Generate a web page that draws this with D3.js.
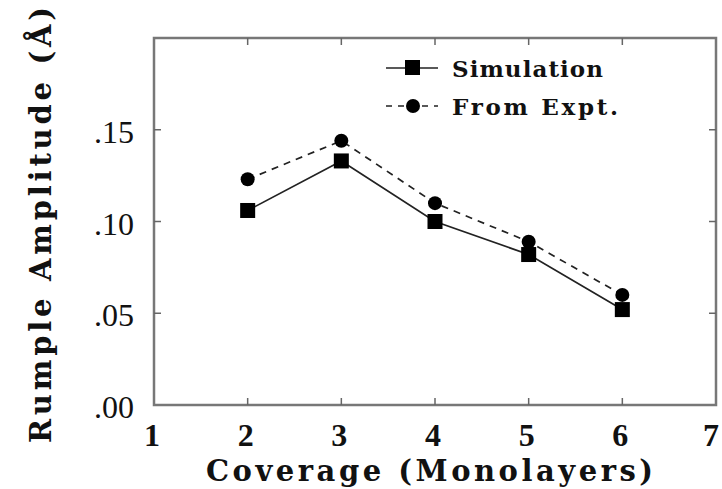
<!DOCTYPE html>
<html>
<head>
<meta charset="utf-8">
<script src="https://cdn.jsdelivr.net/npm/d3@7"></script>
<style>
  body { margin: 0; background: #fff; }
  svg { display: block; }
  .ytick-label { font-family: "Liberation Serif", serif; font-size: 32px; fill: #111; }
  .xtick-label { font-family: "Liberation Serif", serif; font-size: 32px; font-weight: bold; fill: #111; }
  .axis-title { font-family: "DejaVu Serif", serif; font-size: 29px; font-weight: bold; fill: #111; }
  .legend-text { font-family: "DejaVu Serif", serif; font-size: 23px; font-weight: bold; fill: #111; }
</style>
</head>
<body>
<div id="chart"></div>
<script>
// data
const coverage = [2, 3, 4, 5, 6];
const simulation = [0.106, 0.133, 0.100, 0.082, 0.052];
const fromExpt = [0.123, 0.144, 0.110, 0.089, 0.060];
const xTicks = [1, 2, 3, 4, 5, 6, 7];
const yTicks = [0, 0.05, 0.10, 0.15];
const yTickLabels = ['.00', '.05', '.10', '.15'];

const width = 722, height = 489;
const plotL = 154, plotR = 716, plotT = 38, plotB = 405;

const svg = d3.select('#chart').append('svg')
  .attr('width', width).attr('height', height);

const x = d3.scaleLinear().domain([1, 7]).range([plotL, plotR]);
const y = d3.scaleLinear().domain([0, 0.2]).range([plotB, plotT]);

// frame
svg.append('rect')
  .attr('x', plotL).attr('y', plotT)
  .attr('width', plotR - plotL).attr('height', plotB - plotT)
  .attr('fill', 'none').attr('stroke', '#777').attr('stroke-width', 2.5);

// inward ticks on all four sides
const tk = 7;
const innerX = xTicks.filter(d => d > 1 && d < 7);
const innerY = yTicks.filter(d => d > 0);
const ticks = svg.append('g').attr('stroke', '#666').attr('stroke-width', 1.5);
innerX.forEach(d => {
  ticks.append('line').attr('x1', x(d)).attr('x2', x(d)).attr('y1', plotB).attr('y2', plotB - tk);
  ticks.append('line').attr('x1', x(d)).attr('x2', x(d)).attr('y1', plotT).attr('y2', plotT + tk);
});
innerY.forEach(d => {
  ticks.append('line').attr('x1', plotL).attr('x2', plotL + tk).attr('y1', y(d)).attr('y2', y(d));
  ticks.append('line').attr('x1', plotR).attr('x2', plotR - tk).attr('y1', y(d)).attr('y2', y(d));
});

// tick labels (last one pulled in a little so it stays on the page)
svg.selectAll('.xl').data(xTicks).enter().append('text')
  .attr('class', 'xtick-label')
  .attr('x', d => Math.min(x(d) - 2, width - 11)).attr('y', 446)
  .attr('text-anchor', 'middle')
  .text(d => d);
svg.selectAll('.yl').data(yTicks).enter().append('text')
  .attr('class', 'ytick-label')
  .attr('x', 134).attr('y', d => y(d) + 13)
  .attr('text-anchor', 'end')
  .text((d, i) => yTickLabels[i]);

// axis titles (spread out like the original)
svg.append('text').attr('class', 'axis-title')
  .attr('x', 206).attr('y', 481)
  .attr('textLength', 447).attr('lengthAdjust', 'spacing')
  .text('Coverage (Monolayers)');
svg.append('text').attr('class', 'axis-title')
  .attr('transform', 'rotate(-90)')
  .attr('x', -443).attr('y', 51)
  .attr('textLength', 436).attr('lengthAdjust', 'spacing')
  .text('Rumple Amplitude (Å)');

// series lines
const simPts = coverage.map((c, i) => [c, simulation[i]]);
const expPts = coverage.map((c, i) => [c, fromExpt[i]]);
const line = d3.line().x(d => x(d[0])).y(d => y(d[1]));

svg.append('path').attr('d', line(expPts))
  .attr('fill', 'none').attr('stroke', '#222').attr('stroke-width', 1.7)
  .attr('stroke-dasharray', '7,6');
svg.append('path').attr('d', line(simPts))
  .attr('fill', 'none').attr('stroke', '#222').attr('stroke-width', 1.7);

// markers
const sq = 15;
svg.selectAll('.sq').data(simPts).enter().append('rect')
  .attr('x', d => x(d[0]) - sq / 2).attr('y', d => y(d[1]) - sq / 2)
  .attr('width', sq).attr('height', sq).attr('fill', '#000');
svg.selectAll('.ci').data(expPts).enter().append('circle')
  .attr('cx', d => x(d[0])).attr('cy', d => y(d[1])).attr('r', 7)
  .attr('fill', '#000');

// legend
const lg = svg.append('g');
lg.append('line').attr('x1', 386).attr('x2', 438).attr('y1', 68).attr('y2', 68)
  .attr('stroke', '#222').attr('stroke-width', 1.7);
lg.append('rect').attr('x', 405).attr('y', 60).attr('width', 15).attr('height', 15).attr('fill', '#000');
lg.append('text').attr('class', 'legend-text').attr('x', 452).attr('y', 77)
  .attr('textLength', 151).attr('lengthAdjust', 'spacing').text('Simulation');
lg.append('line').attr('x1', 386).attr('x2', 438).attr('y1', 106).attr('y2', 106)
  .attr('stroke', '#222').attr('stroke-width', 1.7).attr('stroke-dasharray', '6,6');
lg.append('circle').attr('cx', 413).attr('cy', 106).attr('r', 7).attr('fill', '#000');
lg.append('text').attr('class', 'legend-text').attr('x', 452).attr('y', 115)
  .attr('textLength', 166).attr('lengthAdjust', 'spacing').text('From Expt.');
</script>
</body>
</html>
